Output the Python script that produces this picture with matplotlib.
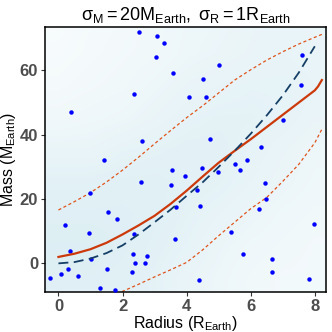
import numpy as np
import matplotlib
matplotlib.use("Agg")
import matplotlib.pyplot as plt
from matplotlib.colors import LinearSegmentedColormap

plt.rcParams['font.family'] = ['Liberation Sans', 'DejaVu Sans']
plt.rcParams['mathtext.fontset'] = 'custom'
plt.rcParams['mathtext.rm'] = 'Liberation Sans'
plt.rcParams['mathtext.it'] = 'Liberation Sans:italic'
plt.rcParams['mathtext.default'] = 'regular'

# observed planets (radius, mass)
obs_r = [2.50, 3.07, 3.29, 3.03, 3.59, 5.00, 4.52, 2.36, 4.06, 4.60, 0.40, 7.59, 7.57,
         7.00, 2.61, 4.72, 1.42, 6.31, 5.88, 5.50, 5.68, 4.48, 3.53, 4.99, 3.95, 2.57,
         6.45, 3.51, 4.32, 0.98, 6.48, 3.66, 4.42, 6.27, 1.54, 1.84, 0.19, 7.96, 0.96,
         2.35, 5.38, 3.63, 0.36, 5.76, 2.32, 2.76, 1.03, 6.65, 2.40, 2.70, 0.30, 1.51,
         0.09, 2.28, 6.66, -0.27, 0.61, 4.39, 7.81, 1.29, 1.76]
obs_m = [72.0, 70.6, 68.5, 64.2, 59.3, 61.7, 57.2, 52.8, 51.7, 51.6, 47.2, 64.8, 55.6,
         44.6, 38.1, 38.6, 32.1, 36.2, 32.0, 31.0, 29.0, 29.7, 28.9, 28.5, 27.1, 25.3,
         25.0, 24.4, 22.8, 21.8, 19.9, 17.5, 17.9, 16.9, 15.9, 13.8, 11.8, 12.2, 9.4,
         9.0, 9.8, 7.5, 3.9, 3.0, 3.0, 2.4, 1.4, 1.3, 0.2, 0.0, -1.9, -1.6,
         -3.4, -2.8, -2.7, -4.4, -4.0, -5.1, -4.9, -7.8, -8.2]

# fitted relation and its band
fit_r = [0.0, 0.5, 1.0, 1.5, 2.0, 2.5, 3.0, 3.5, 4.0, 4.5, 5.0, 5.5, 6.0, 6.5, 7.0, 7.5, 8.0, 8.1, 8.22]
fit_m = [2.0, 3.0, 4.4, 6.4, 9.0, 11.8, 14.8, 18.5, 22.6, 27.0, 31.3, 35.0, 38.6, 42.4, 46.2, 50.0, 53.8, 55.0, 57.0]
hi_r = [0.0, 0.5, 1.0, 1.5, 2.0, 2.5, 3.0, 3.5, 4.0, 4.5, 5.0, 5.5, 6.0, 6.5, 7.0, 7.5, 8.0, 8.22]
hi_m = [16.6, 19.2, 22.0, 25.3, 29.0, 33.0, 37.2, 41.3, 45.3, 49.0, 53.0, 57.0, 60.2, 63.2, 65.8, 68.2, 70.3, 71.2]
lo_r = [1.98, 2.5, 3.0, 3.5, 4.0, 4.5, 5.0, 5.5, 6.0, 6.5, 7.0, 7.5, 8.0, 8.22]
lo_m = [-8.8, -6.5, -4.2, -2.0, 0.3, 4.2, 8.6, 12.8, 17.0, 20.5, 25.5, 30.8, 37.5, 41.7]

# true relation
true_r = [0.0, 0.5, 1.0, 1.5, 2.0, 2.5, 3.0, 3.5, 4.0, 4.5, 5.0, 5.5, 6.0, 6.5, 7.0, 7.5, 8.0]
true_m = [0.0, 0.4, 1.5, 3.2, 5.6, 9.0, 12.8, 16.7, 21.0, 25.2, 30.0, 35.0, 40.3, 46.0, 52.2, 59.3, 67.5]

# density of the simulated cloud, read per cell (rows: mass 75 .. -5, cols: radius 0 .. 8)
cloud_density = [
    [0.22, 0.28, 0.32, 0.38, 0.48, 0.52, 0.58, 0.62, 0.58],
    [0.25, 0.30, 0.35, 0.40, 0.50, 0.55, 0.60, 0.65, 0.60],
    [0.30, 0.35, 0.40, 0.50, 0.60, 0.65, 0.70, 0.70, 0.65],
    [0.40, 0.45, 0.50, 0.60, 0.70, 0.75, 0.75, 0.70, 0.60],
    [0.60, 0.60, 0.70, 0.75, 0.80, 0.80, 0.70, 0.60, 0.50],
    [0.80, 0.80, 0.85, 0.85, 0.80, 0.75, 0.65, 0.55, 0.45],
    [0.90, 0.90, 0.90, 0.85, 0.75, 0.65, 0.55, 0.45, 0.40],
    [0.95, 0.95, 0.90, 0.80, 0.70, 0.55, 0.45, 0.40, 0.35],
    [0.90, 0.90, 0.85, 0.75, 0.60, 0.50, 0.40, 0.35, 0.35],
]

fig = plt.figure(figsize=(3.32, 3.32), dpi=100)
ax = fig.add_axes([0.1355, 0.1205, 0.8465, 0.7982])

cmap = LinearSegmentedColormap.from_list('cloud', ['#ffffff', '#dceef4'])
ax.imshow(cloud_density, cmap=cmap, vmin=0, vmax=1, extent=(-0.5, 8.5, -10, 80),
          aspect='auto', interpolation='bilinear', zorder=0)

ax.plot(hi_r, hi_m, color='#e0541c', lw=0.9, ls=(0, (2.5, 2)), zorder=2)
ax.plot(lo_r, lo_m, color='#e0541c', lw=0.9, ls=(0, (2.5, 2)), zorder=2)
ax.plot(obs_r, obs_m, 'o', color='#0000ff', ms=3.2, mec='none', zorder=3)
ax.plot(fit_r, fit_m, color='#cc3a0c', lw=1.6, zorder=4)
ax.plot(true_r, true_m, color='#153f66', lw=1.3, ls=(0, (5.5, 3)), zorder=4)

ax.set_xlim(-0.42, 8.35)
ax.set_ylim(-8.9, 73.5)
ax.set_xticks([0, 2, 4, 6, 8])
ax.set_yticks([0, 20, 40, 60])
ax.tick_params(length=3, width=0.8, color='#333333', labelcolor='#4d4d4d', labelsize=12, pad=2)
for lab in ax.get_xticklabels() + ax.get_yticklabels():
    lab.set_fontweight('bold')
for s in ax.spines.values():
    s.set_linewidth(1.1)
    s.set_color('black')

ax.set_xlabel(r'Radius ($\mathrm{R_{Earth}}$)', fontsize=11.5, labelpad=0)
ax.set_ylabel(r'Mass ($\mathrm{M_{Earth}}$)', fontsize=11.5, labelpad=1)
ax.set_title(r'$\sigma_\mathrm{M} = 20\mathrm{M_{Earth}},\ \sigma_\mathrm{R} = 1\mathrm{R_{Earth}}$',
             fontsize=13, pad=5)

fig.savefig('out.png', dpi=100)
